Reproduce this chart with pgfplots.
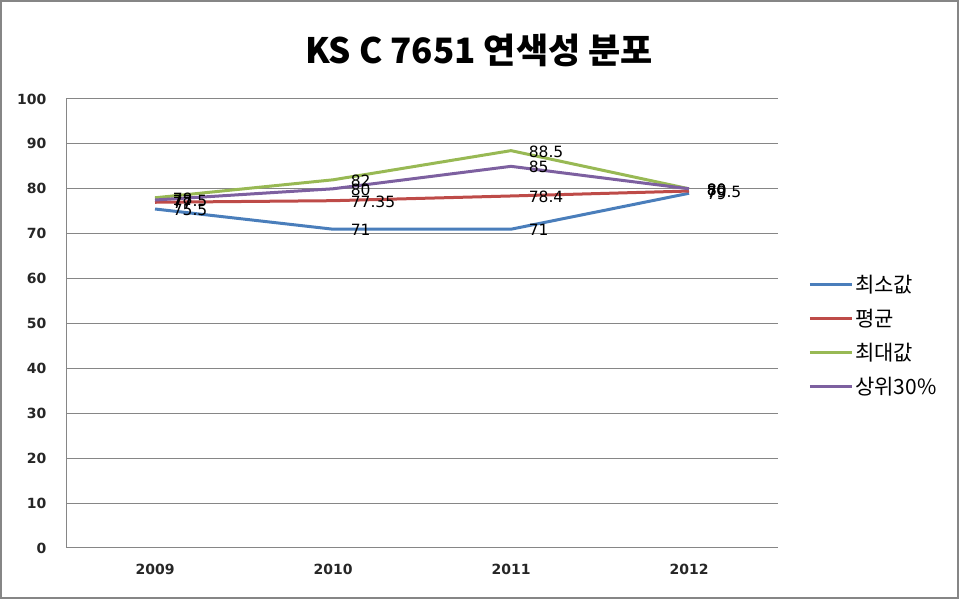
\documentclass[border=0pt]{standalone}
\usepackage{pgfplots}
\pgfplotsset{compat=1.18}
\usepackage{fontspec}
\setmainfont{DejaVu Sans}
\newfontfamily\kr{Noto Sans CJK KR}
\definecolor{cblue}{HTML}{4A7EBB}
\definecolor{cred}{HTML}{BE4B48}
\definecolor{cgreen}{HTML}{98B954}
\definecolor{cpurple}{HTML}{7D60A0}
\definecolor{cgrid}{HTML}{868686}
\begin{document}
\begin{tikzpicture}[x=1pt,y=1pt]
\useasboundingbox (0,0) rectangle (959,599);
\draw[cgrid, line width=1.5pt] (1,1) rectangle (958,598);
\node[font=\kr\bfseries\fontsize{35}{40}\selectfont] at (479,549) {KS C 7651 연색성 분포};
\begin{axis}[
  at={(66pt,51pt)}, anchor=south west,
  scale only axis, width=712pt, height=449pt,
  xmin=-0.5, xmax=3.5, ymin=0, ymax=100,
  xtick={0,1,2,3}, xticklabels={2009,2010,2011,2012},
  ytick={0,10,...,100},
  axis lines*=left,
  axis line style={cgrid, line width=1pt},
  ymajorgrids, grid style={cgrid, line width=1pt},
  major tick length=0pt,
  tick style={draw=none},
  tick label style={font=\bfseries\fontsize{14}{16}\selectfont, text=black!85},
  /pgf/number format/assume math mode=true,
  xticklabel style={yshift=-13pt},
  yticklabel style={xshift=-16pt},
  every axis plot/.append style={line width=3pt, no markers},
  nodes near coords={\pgfplotspointmeta},
  point meta=explicit symbolic,
  every node near coord/.append style={font=\fontsize{15.5}{17}\selectfont, text=black, anchor=west, xshift=13pt, yshift=-1pt},
  legend style={at={(1.038,0.473)}, anchor=west, draw=none, fill=none,
    font=\kr\fontsize{21}{23}\selectfont, row sep=11pt},
  legend cell align=left,
  legend image code/.code={\draw[#1, line width=3pt] (0pt,0pt) -- (42pt,0pt);},
  clip=false,
]
\addplot[cblue] coordinates {(0,75.5) [75.5] (1,71) [71] (2,71) [71] (3,79) [79]};
\addlegendentry{최소값}
\addplot[cred] coordinates {(0,77) [77] (1,77.35) [77.35] (2,78.4) [78.4] (3,79.5) [79.5]};
\addlegendentry{평균}
\addplot[cgreen] coordinates {(0,78) [78] (1,82) [82] (2,88.5) [88.5] (3,80) [80]};
\addlegendentry{최대값}
\addplot[cpurple] coordinates {(0,77.5) [77.5] (1,80) [80] (2,85) [85] (3,80) [80]};
\addlegendentry{상위30\%}
\end{axis}
\end{tikzpicture}
\end{document}
